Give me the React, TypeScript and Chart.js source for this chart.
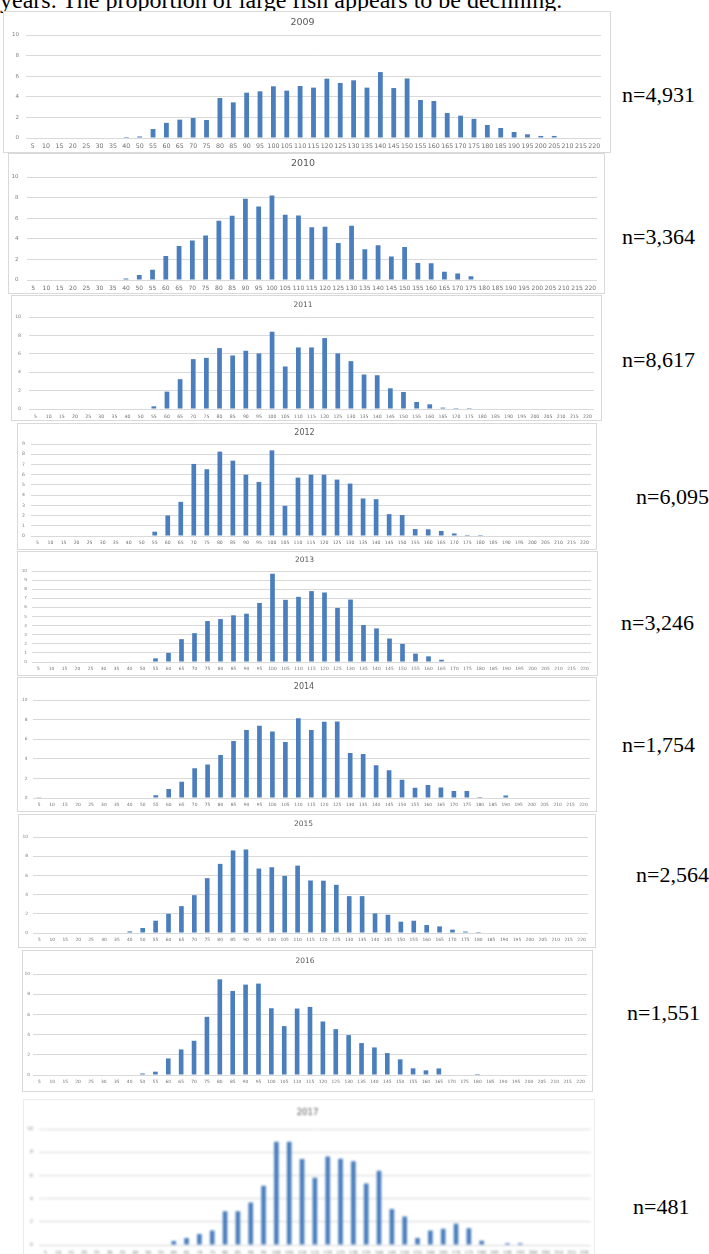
import React, { useEffect, useRef } from 'react';
import { Chart, registerables } from 'chart.js';

Chart.register(...registerables);

// ---------- data ----------
const sizeClasses = [
  '5', '10', '15', '20', '25', '30', '35', '40', '50', '55', '60', '65', '70', '75', '80', '85', '90', '95',
  '100', '105', '110', '115', '120', '125', '130', '135', '140', '145', '150', '155', '160', '165', '170',
  '175', '180', '185', '190', '195', '200', '205', '210', '215', '220',
];

const years = ['2009', '2010', '2011', '2012', '2013', '2014', '2015', '2016', '2017'];
const sampleSizes = ['n=4,931', 'n=3,364', 'n=8,617', 'n=6,095', 'n=3,246', 'n=1,754', 'n=2,564', 'n=1,551', 'n=481'];
const yMaxes = [10, 10, 10, 9, 10, 10, 10, 10, 10];
const yStepSizes = [2, 2, 2, 1, 1, 2, 2, 2, 2];

const pct2009 = [0, 0, 0.05, 0.05, 0.05, 0.05, 0.05, 0.1, 0.15, 0.87, 1.47, 1.78, 1.94, 1.75, 3.88, 3.46, 4.4, 4.53, 5.02, 4.6, 5.05, 4.89, 5.76, 5.34, 5.6, 4.89, 6.4, 4.85, 5.78, 3.69, 3.59, 2.43, 2.17, 1.86, 1.26, 0.97, 0.58, 0.36, 0.2, 0.2, 0.05, 0, 0];
const pct2010 = [0, 0, 0, 0, 0, 0, 0, 0.15, 0.49, 1.0, 2.34, 3.31, 3.83, 4.32, 5.75, 6.23, 7.89, 7.14, 8.21, 6.33, 6.27, 5.13, 5.16, 3.6, 5.26, 2.99, 3.38, 2.27, 3.21, 1.66, 1.62, 0.81, 0.62, 0.36, 0.05, 0, 0.05, 0.05, 0.05, 0, 0, 0, 0];
const pct2011 = [0, 0, 0, 0, 0, 0, 0, 0, 0.05, 0.29, 1.89, 3.24, 5.42, 5.56, 6.62, 5.82, 6.33, 6.04, 8.4, 4.62, 6.69, 6.69, 7.71, 6.04, 5.2, 3.75, 3.67, 2.25, 1.85, 0.76, 0.51, 0.15, 0.1, 0.1, 0, 0.05, 0, 0, 0, 0, 0, 0, 0];
const pct2012 = [0, 0, 0, 0, 0, 0, 0, 0.05, 0.05, 0.42, 2.01, 3.34, 7.05, 6.53, 8.25, 7.37, 6.0, 5.29, 8.38, 2.95, 5.71, 6.0, 6.0, 5.52, 5.13, 3.67, 3.6, 2.14, 2.05, 0.68, 0.66, 0.49, 0.25, 0.1, 0.1, 0, 0.05, 0, 0, 0, 0, 0, 0];
const pct2013 = [0, 0.05, 0, 0, 0, 0, 0, 0.05, 0.05, 0.4, 1.0, 2.51, 3.17, 4.5, 4.72, 5.13, 5.31, 6.49, 9.7, 6.83, 7.16, 7.79, 7.64, 5.94, 6.86, 4.06, 3.69, 2.58, 1.99, 0.92, 0.62, 0.25, 0.05, 0.05, 0, 0, 0, 0, 0, 0, 0, 0, 0];
const pct2014 = [0.02, 0, 0, 0, 0, 0, 0, 0, 0, 0.27, 0.91, 1.66, 3.04, 3.41, 4.39, 5.81, 6.93, 7.36, 6.79, 5.71, 8.14, 6.93, 7.77, 7.8, 4.59, 4.49, 3.34, 2.84, 1.86, 1.05, 1.32, 1.08, 0.71, 0.71, 0.1, 0.05, 0.25, 0.05, 0, 0, 0, 0, 0];
const pct2015 = [0, 0, 0, 0, 0, 0, 0, 0.17, 0.52, 1.28, 2.0, 2.8, 3.94, 5.71, 7.2, 8.6, 8.7, 6.71, 6.85, 5.95, 7.02, 5.47, 5.45, 5.02, 3.84, 3.84, 2.04, 1.9, 1.18, 1.28, 0.83, 0.69, 0.35, 0.15, 0.1, 0, 0, 0, 0, 0, 0, 0, 0];
const pct2016 = [0, 0, 0, 0, 0, 0, 0, 0.05, 0.15, 0.33, 1.64, 2.53, 3.39, 5.76, 9.47, 8.32, 8.95, 9.05, 6.61, 4.84, 6.58, 6.74, 5.3, 4.54, 3.95, 3.16, 2.73, 2.17, 1.55, 0.66, 0.46, 0.65, 0, 0.05, 0.1, 0, 0, 0, 0, 0, 0, 0, 0];
const pct2017 = [0, 0, 0, 0, 0, 0, 0, 0, 0, 0, 0.35, 0.6, 0.95, 1.24, 2.91, 2.91, 3.66, 5.1, 8.9, 8.9, 7.41, 5.79, 7.64, 7.43, 7.23, 5.3, 6.4, 3.11, 2.45, 0.6, 1.24, 1.4, 1.84, 1.44, 0.37, 0, 0.15, 0.15, 0, 0, 0, 0, 0];

const yearValues = [pct2009, pct2010, pct2011, pct2012, pct2013, pct2014, pct2015, pct2016, pct2017];

const headingText = 'years. The proportion of large fish appears to be declining.';

// ---------- layout (page pixels) ----------
type PanelLayout = {
  left: number; top: number; right: number; bottom: number;
  titleY: number; plotL: number; plotR: number; plotT: number; plotB: number; labelY: number;
  yPad: number; titleSize: number; xSize: number; ySize: number; blur?: number; borderColor?: string;
};

const panelLayouts: PanelLayout[] = [
  { left: 3, top: 11, right: 611, bottom: 153, titleY: 23, plotL: 26, plotR: 601, plotT: 35, plotB: 138, labelY: 146, yPad: 7, titleSize: 9.5, xSize: 6.3, ySize: 5.5 },
  { left: 8, top: 153, right: 605, bottom: 294, titleY: 164, plotL: 26.5, plotR: 597, plotT: 177, plotB: 280, labelY: 288, yPad: 8, titleSize: 9.5, xSize: 6, ySize: 5.5 },
  { left: 11, top: 295, right: 602, bottom: 421, titleY: 305, plotL: 29, plotR: 594, plotT: 317, plotB: 409, labelY: 417, yPad: 8, titleSize: 7.5, xSize: 4.6, ySize: 4.6 },
  { left: 17, top: 423, right: 597, bottom: 550, titleY: 433, plotL: 31, plotR: 591, plotT: 444, plotB: 536, labelY: 543, yPad: 6, titleSize: 8, xSize: 4.6, ySize: 4.6 },
  { left: 17, top: 551, right: 598, bottom: 676, titleY: 560, plotL: 32, plotR: 591, plotT: 571, plotB: 662, labelY: 669, yPad: 5, titleSize: 7.5, xSize: 4.4, ySize: 4.2 },
  { left: 17, top: 677, right: 597, bottom: 812, titleY: 687, plotL: 32.6, plotR: 590, plotT: 700, plotB: 798, labelY: 805, yPad: 5, titleSize: 8, xSize: 4.4, ySize: 4.4 },
  { left: 18, top: 814, right: 596, bottom: 948, titleY: 824, plotL: 33, plotR: 588, plotT: 837, plotB: 933, labelY: 940, yPad: 5, titleSize: 7.5, xSize: 4.4, ySize: 4.4 },
  { left: 22, top: 950, right: 593, bottom: 1092, titleY: 961, plotL: 33, plotR: 587, plotT: 974, plotB: 1075, labelY: 1082, yPad: 3, titleSize: 7.5, xSize: 4.4, ySize: 4.4 },
  { left: 23, top: 1099, right: 595, bottom: 1262, titleY: 1113, plotL: 39, plotR: 591, plotT: 1129, plotB: 1245, labelY: 1253, yPad: 6, titleSize: 8.5, xSize: 4.6, ySize: 4.6, blur: 0.8, borderColor: '#ececec' },
];

const nLabelPositions = [
  { x: 622, y: 95 }, { x: 622, y: 237 }, { x: 622, y: 360 }, { x: 636, y: 497 }, { x: 621, y: 623 },
  { x: 622, y: 745 }, { x: 636, y: 875 }, { x: 627, y: 1013 }, { x: 633, y: 1207 },
];

const BAR_COLOR = '#4a7ebd';
const GRID_COLOR = '#d9d9d9';
const TICK_FONT = 'DejaVu Sans';

function Panel({ idx }: { idx: number }) {
  const ref = useRef<HTMLCanvasElement>(null);
  const L = panelLayouts[idx];
  const ox = L.left + 1;
  const oy = L.top + 1;
  const innerW = L.right - L.left - 2;
  const innerH = L.bottom - L.top - 2;

  useEffect(() => {
    const canvas = ref.current;
    if (!canvas) return;
    const tLH = L.titleSize * 1.2;
    const titleCenter = L.titleY - oy;
    const padTop = Math.max(0, titleCenter - tLH / 2);
    const padBottom = Math.max(0, L.plotT - oy - padTop - tLH);
    const chart = new Chart(canvas, {
      type: 'bar',
      data: {
        labels: sizeClasses,
        datasets: [
          {
            data: yearValues[idx],
            backgroundColor: BAR_COLOR,
            borderWidth: 0,
            barPercentage: 0.36,
            categoryPercentage: 1,
          },
        ],
      },
      options: {
        animation: false,
        responsive: false,
        devicePixelRatio: 1,
        layout: { padding: { left: 0, right: ox + innerW - L.plotR, top: 0, bottom: 0 } },
        plugins: {
          legend: { display: false },
          tooltip: { enabled: false },
          title: {
            display: true,
            text: years[idx],
            color: '#595959',
            font: { family: TICK_FONT, size: L.titleSize, weight: 'normal', lineHeight: 1.2 },
            padding: { top: padTop, bottom: padBottom },
          },
        },
        scales: {
          x: {
            grid: { display: false, drawTicks: false },
            border: { display: false },
            ticks: {
              autoSkip: false,
              maxRotation: 0,
              minRotation: 0,
              color: '#6f6f6f',
              font: { family: TICK_FONT, size: L.xSize, lineHeight: 1.2 },
              padding: Math.max(0, L.labelY - L.plotB - 0.6 * L.xSize),
            },
            afterFit: (s: any) => {
              s.height = oy + innerH - L.plotB;
            },
          },
          y: {
            min: 0,
            max: yMaxes[idx],
            grid: { color: GRID_COLOR, drawTicks: false, lineWidth: 1 },
            border: { display: false },
            ticks: {
              stepSize: yStepSizes[idx],
              color: '#7f7f7f',
              font: { family: TICK_FONT, size: L.ySize },
              padding: L.yPad,
            },
            afterFit: (s: any) => {
              s.width = L.plotL - ox;
            },
          },
        },
      },
    } as any);
    return () => chart.destroy();
  }, [idx]);

  return (
    <div
      style={{
        position: 'absolute',
        left: L.left,
        top: L.top,
        width: L.right - L.left,
        height: L.bottom - L.top,
        boxSizing: 'border-box',
        border: `1px solid ${L.borderColor || '#d9d9d9'}`,
        background: '#ffffff',
      }}
    >
      <canvas
        ref={ref}
        width={innerW}
        height={innerH}
        style={{
          position: 'absolute',
          left: 0,
          top: 0,
          width: innerW,
          height: innerH,
          filter: L.blur ? `blur(${L.blur}px)` : undefined,
        }}
      />
    </div>
  );
}

export default function App() {
  return (
    <div
      style={{
        position: 'absolute',
        left: 0,
        top: 0,
        width: 709,
        height: 1254,
        overflow: 'hidden',
        background: '#ffffff',
      }}
    >
      <div
        style={{
          position: 'absolute',
          left: 0,
          top: -12,
          fontFamily: "'Liberation Serif', 'Times New Roman', serif",
          fontSize: 24,
          lineHeight: '24px',
          whiteSpace: 'nowrap',
          color: '#000',
        }}
      >
        {headingText}
      </div>
      {panelLayouts.map((_, i) => (
        <Panel key={years[i]} idx={i} />
      ))}
      {sampleSizes.map((t, i) => (
        <div
          key={t}
          style={{
            position: 'absolute',
            left: nLabelPositions[i].x,
            top: nLabelPositions[i].y - 13,
            height: 26,
            lineHeight: '26px',
            fontFamily: "'Liberation Serif', 'Times New Roman', serif",
            fontSize: 22,
            whiteSpace: 'nowrap',
            color: '#000',
          }}
        >
          {t}
        </div>
      ))}
    </div>
  );
}
